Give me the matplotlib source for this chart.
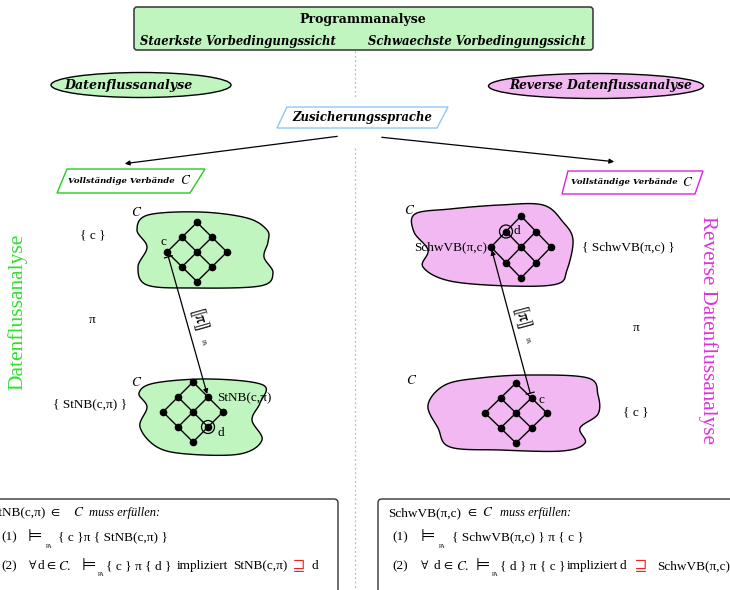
import numpy as np
import matplotlib
matplotlib.use('Agg')
import matplotlib.pyplot as plt
from matplotlib.patches import Polygon, Ellipse, FancyBboxPatch, Circle

plt.rcParams['mathtext.fontset'] = 'stix'

# ---------------- data ----------------
title = 'Programmanalyse'
subtitles = ['Staerkste Vorbedingungssicht', 'Schwaechste Vorbedingungssicht']
analyses = ['Datenflussanalyse', 'Reverse Datenflussanalyse']
assertion_lang = 'Zusicherungssprache'
lattice_label = 'Vollständige Verbände'
side_titles = ['Datenflussanalyse', 'Reverse Datenflussanalyse']
left_sets = ['{ c }', 'π', '{ StNB(c,π) }']
right_sets = ['{ SchwVB(π,c) }', 'π', '{ c }']
node_labels = ['c', 'StNB(c,π)', 'd', 'SchwVB(π,c)', 'd', 'c']
sem_label = '⟦π⟧'
sem_sub = 'PA'

# lattice centres and half-diagonal steps (3x3 diamond lattices)
lat_cx = [197, 193, 521, 516]
lat_cy = [252, 412, 247, 413]
lat_sx = [15, 15, 15, 15.5]
lat_sy = [14.8, 15, 15.5, 15]

# blob outlines (closed, smoothed)
blob_lt = [(148, 215), (200, 212), (247, 218), (267, 230), (268, 242), (264, 257),
           (273, 273), (260, 286), (193, 288), (147, 285), (138, 267), (147, 247),
           (137, 230)]
blob_lb = [(155, 383), (210, 379), (263, 385), (260, 403), (252, 420), (262, 440),
           (240, 454), (187, 454), (157, 447), (140, 427), (147, 407), (139, 393)]
blob_rt = [(415, 214), (450, 209), (500, 205), (543, 205), (563, 222), (573, 240),
           (567, 270), (557, 284), (510, 286), (450, 281), (423, 267), (428, 250),
           (414, 232)]
blob_rb = [(445, 385), (480, 378), (530, 375), (588, 378), (598, 395), (598, 414),
           (580, 428), (585, 443), (562, 451), (500, 450), (450, 447), (438, 428),
           (428, 405)]

GREEN = '#c0f5c0'
PINK = '#f2b8f2'
GREEN_E = '#22cc22'
PINK_E = '#dd22dd'
BLUE = '#8ec8f4'

fig = plt.figure(figsize=(7.3, 5.9), dpi=100)
ax = fig.add_axes([0, 0, 1, 1])
ax.set_xlim(0, 730)
ax.set_ylim(590, 0)
ax.axis('off')

HEAD = 'DejaVu Serif'
BODY = ['Liberation Serif', 'STIXGeneral', 'DejaVu Sans']
SYM = ['STIXGeneral', 'DejaVu Sans']


def smooth_closed(pts, n=20):
    P = np.array(pts, dtype=float)
    N = len(P)
    out = []
    t = np.linspace(0, 1, n, endpoint=False)[:, None]
    for i in range(N):
        p0, p1, p2, p3 = P[(i - 1) % N], P[i], P[(i + 1) % N], P[(i + 2) % N]
        seg = 0.5 * ((2 * p1) + (-p0 + p2) * t + (2 * p0 - 5 * p1 + 4 * p2 - p3) * t ** 2
                     + (-p0 + 3 * p1 - 3 * p2 + p3) * t ** 3)
        out.append(seg)
    return np.vstack(out)


# vertical dotted divider
ax.plot([355, 355], [51, 98], ls=(0, (1.5, 2)), color=BLUE, lw=0.9)
ax.plot([355, 355], [148, 590], ls=(0, (1.5, 2)), color=BLUE, lw=0.9)

# top box
ax.add_patch(FancyBboxPatch((134, 7), 459, 43, boxstyle='round,pad=0,rounding_size=3',
                            fc=GREEN, ec='#333333', lw=1.1))
ax.text(363, 19, title, ha='center', va='center', fontsize=9, weight='bold', family=HEAD)
ax.text(238, 41, subtitles[0], ha='center', va='center', fontsize=8.4, weight='bold',
        style='italic', family=HEAD)
ax.text(477, 41, subtitles[1], ha='center', va='center', fontsize=8.4, weight='bold',
        style='italic', family=HEAD)

# analysis ellipses
ax.add_patch(Ellipse((141, 85), 180, 25, fc=GREEN, ec='black', lw=1))
ax.text(128, 85, analyses[0], ha='center', va='center', fontsize=9.1, weight='bold',
        style='italic', family=HEAD)
ax.add_patch(Ellipse((596, 86), 215, 25, fc=PINK, ec='black', lw=1))
ax.text(601, 86, analyses[1], ha='center', va='center', fontsize=8.8, weight='bold',
        style='italic', family=HEAD)

# assertion language parallelogram
ax.add_patch(Polygon([(277, 128), (287, 107), (448, 107), (437, 128)], closed=True,
                     fc='white', ec=BLUE, lw=1))
ax.text(362, 118, assertion_lang, ha='center', va='center', fontsize=8.4, weight='bold',
        style='italic', family=HEAD)

# arrows to lattices
ax.annotate('', xy=(122, 164), xytext=(340, 136),
            arrowprops=dict(arrowstyle='-|>', color='black', lw=0.9, mutation_scale=7))
ax.annotate('', xy=(617, 162), xytext=(379, 137),
            arrowprops=dict(arrowstyle='-|>', color='black', lw=0.9, mutation_scale=7))

# lattice parallelograms
ax.add_patch(Polygon([(57, 193), (67, 169), (205, 169), (190, 193)], closed=True,
                     fc='white', ec=GREEN_E, lw=1))
ax.text(121, 181, lattice_label, ha='center', va='center', fontsize=6.1, weight='bold',
        style='italic', family=HEAD)
ax.text(186, 181, '$C$', ha='center', va='center', fontsize=9.5)
ax.add_patch(Polygon([(562, 194), (568, 171), (703, 171), (695, 194)], closed=True,
                     fc='white', ec=PINK_E, lw=1))
ax.text(624, 182, lattice_label, ha='center', va='center', fontsize=6.1, weight='bold',
        style='italic', family=HEAD)
ax.text(688, 182, '$C$', ha='center', va='center', fontsize=9.5)

# blobs
for pts, col in [(blob_lt, GREEN), (blob_lb, GREEN), (blob_rt, PINK), (blob_rb, PINK)]:
    xy = smooth_closed(pts)
    ax.add_patch(Polygon(xy, closed=True, fc=col, ec='black', lw=1))


# lattices
def node(k, i, j):
    return (lat_cx[k] + (i - j) * lat_sx[k], lat_cy[k] + (i + j - 2) * lat_sy[k])


for k in range(4):
    for i in range(3):
        for j in range(3):
            x0, y0 = node(k, i, j)
            if i < 2:
                x1, y1 = node(k, i + 1, j)
                ax.plot([x0, x1], [y0, y1], color='black', lw=1, zorder=3)
            if j < 2:
                x1, y1 = node(k, i, j + 1)
                ax.plot([x0, x1], [y0, y1], color='black', lw=1, zorder=3)
    xs = [node(k, i, j)[0] for i in range(3) for j in range(3)]
    ys = [node(k, i, j)[1] for i in range(3) for j in range(3)]
    ax.plot(xs, ys, 'o', color='black', ms=4.5, zorder=4)

# circled d nodes
for k, (i, j) in [(1, (2, 1)), (2, (0, 1))]:
    ax.add_patch(Circle(node(k, i, j), 6.5, fc='none', ec='black', lw=0.9, zorder=5))

# node labels
fs = 9.5
x, y = node(0, 0, 2)
ax.text(x - 4, y - 10, node_labels[0], ha='center', va='center', fontsize=fs, family=BODY)
x, y = node(1, 1, 0)
ax.text(x + 9, y + 1, node_labels[1], ha='left', va='center', fontsize=fs, family=BODY)
x, y = node(1, 2, 1)
ax.text(x + 9, y + 6, node_labels[2], ha='left', va='center', fontsize=fs, family=BODY)
x, y = node(2, 0, 2)
ax.text(x - 4, y, node_labels[3], ha='right', va='center', fontsize=fs, family=BODY)
x, y = node(2, 0, 1)
ax.text(x + 8, y, node_labels[4], ha='left', va='center', fontsize=fs, family=BODY)
x, y = node(3, 1, 0)
ax.text(x + 7, y + 2, node_labels[5], ha='left', va='center', fontsize=fs, family=BODY)

# C labels near blobs
for (cx_, cy_) in [(137, 213), (137, 382), (410, 211), (412, 380)]:
    ax.text(cx_, cy_, '$C$', ha='center', va='center', fontsize=9.5)

# set labels
ax.text(93, 235, left_sets[0], ha='center', va='center', fontsize=fs, family=BODY)
ax.text(92, 320, left_sets[1], ha='center', va='center', fontsize=fs, family=BODY)
ax.text(90, 404, left_sets[2], ha='center', va='center', fontsize=fs, family=BODY)
ax.text(628, 247, right_sets[0], ha='center', va='center', fontsize=fs, family=BODY)
ax.text(636, 328, right_sets[1], ha='center', va='center', fontsize=fs, family=BODY)
ax.text(636, 412, right_sets[2], ha='center', va='center', fontsize=fs, family=BODY)


# semantic arrows
def sem_arrow(p_from, p_to, lab_off):
    p0 = np.array(p_from, float)
    p1 = np.array(p_to, float)
    d = (p1 - p0) / np.linalg.norm(p1 - p0)
    s = p0 + d * 5
    e = p1 - d * 3
    ax.annotate('', xy=e, xytext=s,
                arrowprops=dict(arrowstyle='-|>', color='black', lw=0.9,
                                mutation_scale=7, shrinkA=0, shrinkB=0), zorder=6)
    nrm = np.array([-d[1], d[0]])
    ax.plot([s[0] - nrm[0] * 4, s[0] + nrm[0] * 4], [s[1] - nrm[1] * 4, s[1] + nrm[1] * 4],
            color='black', lw=0.9, zorder=6)
    dd = d if d[1] > 0 else -d
    ang = np.degrees(np.arctan2(-dd[1], dd[0]))
    mid = (p0 + p1) / 2
    ax.text(mid[0] + lab_off, mid[1] - 2, sem_label, rotation=ang, ha='center', va='center',
            fontsize=12.5, family=SYM, rotation_mode='anchor')
    ax.text(mid[0] + lab_off + 7, mid[1] + 18, sem_sub, rotation=ang, ha='center',
            va='center', fontsize=4, family=BODY, rotation_mode='anchor')


sem_arrow(node(0, 0, 2), node(1, 1, 0), 9)
sem_arrow(node(3, 1, 0), node(2, 0, 2), 9)

# side titles
ax.text(17, 312, side_titles[0], rotation=90, ha='center', va='center', fontsize=15.5,
        color='#33dd33', family=BODY)
ax.text(708, 330, side_titles[1], rotation=-90, ha='center', va='center', fontsize=15.2,
        color='#dd33dd', family=BODY)

# bottom boxes
ax.add_patch(FancyBboxPatch((-10, 499), 348, 110, boxstyle='round,pad=0,rounding_size=4',
                            fc='white', ec='#333333', lw=1))
ax.add_patch(FancyBboxPatch((378, 499), 370, 110, boxstyle='round,pad=0,rounding_size=4',
                            fc='white', ec='#333333', lw=1))

bfs = 9.5


def t(x, y, s, **kw):
    kw.setdefault('fontsize', bfs)
    kw.setdefault('family', BODY)
    ax.text(x, y, s, ha='left', va='center', **kw)


Y1, Y2, Y3 = 513, 537, 566
# left box
t(-9, Y1, 'StNB(c,π)')
t(50, Y1, '∈', family=SYM)
t(73, Y1, '$C$', fontsize=9.5)
t(89, Y1, 'muss erfüllen:', style='italic', fontsize=9)
t(1, Y2, '(1)')
t(28, Y2 - 1, '⊨', fontsize=12, family=['DejaVu Sans'])
t(46, Y2 + 9, 'PA', fontsize=4)
t(58, Y2, '{ c }π { StNB(c,π) }')
t(1, Y3, '(2)')
t(29, Y3, '∀', family=SYM)
t(38, Y3, 'd', family=BODY)
t(46, Y3, '∈', family=SYM)
t(58, Y3, '$C$.', fontsize=9.5)
t(82, Y3 - 1, '⊨', fontsize=12, family=['DejaVu Sans'])
t(98, Y3 + 9, 'PA', fontsize=4)
t(106, Y3, '{ c } π { d }')
t(177, Y3, 'impliziert')
t(233, Y3, 'StNB(c,π)')
t(293, Y3, '⊒', color='#ee2222', fontsize=12.5, family=SYM)
t(312, Y3, 'd')

# right box
t(388, Y1, 'SchwVB(π,c)')
t(467, Y1, '∈', family=SYM)
t(482, Y1, '$C$', fontsize=9.5)
t(500, Y1, 'muss erfüllen:', style='italic', fontsize=9)
t(392, Y2, '(1)')
t(421, Y2 - 1, '⊨', fontsize=12, family=['DejaVu Sans'])
t(439, Y2 + 9, 'PA', fontsize=4)
t(452, Y2, '{ SchwVB(π,c) } π { c }')
t(392, Y3, '(2)')
t(421, Y3, '∀', family=SYM)
t(433, Y3, 'd', family=BODY)
t(443, Y3, '∈', family=SYM)
t(456, Y3, '$C$.', fontsize=9.5)
t(476, Y3 - 1, '⊨', fontsize=12, family=['DejaVu Sans'])
t(492, Y3 + 9, 'PA', fontsize=4)
t(500, Y3, '{ d } π { c }')
t(567, Y3, 'impliziert')
t(620, Y3, 'd')
t(635, Y3, '⊒', color='#ee2222', fontsize=12.5, family=SYM)
t(657, Y3, 'SchwVB(π,c)')

fig.savefig('out.png', dpi=100)
